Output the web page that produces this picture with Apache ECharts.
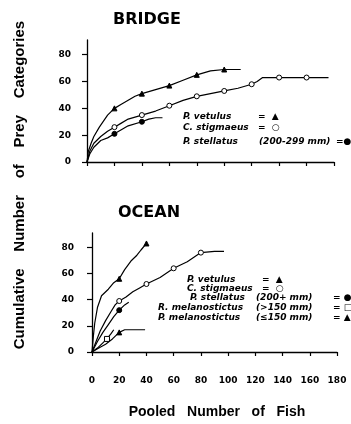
<!DOCTYPE html>
<html>
<head>
<meta charset="utf-8">
<script src="https://cdn.jsdelivr.net/npm/echarts@6/dist/echarts.min.js"></script>
<style>
  html, body { margin: 0; padding: 0; background: #fff; }
  #chart { width: 351px; height: 424px; }
</style>
</head>
<body>
<div id="chart"></div>
<script>
// Shared axis ticks
const fishTicks = [0, 20, 40, 60, 80, 100, 120, 140, 160, 180];
const preyTicks = [0, 20, 40, 60, 80];

// BRIDGE: cumulative prey categories vs. pooled number of fish
const bridgeVetulusX = [0, 1, 3, 5, 9, 15, 20, 25, 30, 35, 40, 50, 60, 70, 80, 90, 100, 112];
const bridgeVetulusY = [0, 8, 14, 19, 26, 35, 40, 43, 46, 49, 51, 54, 57, 61, 65, 68, 69, 69];
const bridgeVetulusMarks = [20, 40, 60, 80, 100];

const bridgeStigmaeusX = [0, 2, 5, 10, 15, 20, 25, 30, 40, 50, 60, 70, 80, 90, 100, 110, 120, 124, 128, 140, 160, 176];
const bridgeStigmaeusY = [0, 8, 14, 19, 23, 26, 29, 32, 35, 38, 42, 46, 49, 51, 53, 55, 58, 60, 63, 63, 63, 63];
const bridgeStigmaeusMarks = [20, 40, 60, 80, 100, 120, 140, 160];

const bridgeStellatusX = [0, 2, 5, 10, 15, 20, 25, 30, 40, 45, 50, 55];
const bridgeStellatusY = [0, 6, 11, 16, 18, 21, 24, 27, 30, 32, 33, 33];
const bridgeStellatusMarks = [20, 40];

// OCEAN
const oceanVetulusX = [0, 1, 2, 4, 7, 12, 16, 20, 24, 29, 33, 36, 40];
const oceanVetulusY = [0, 12, 22, 34, 43, 48, 53, 56, 63, 70, 74, 78, 83];
const oceanVetulusMarks = [20, 40];

const oceanStigmaeusX = [0, 3, 6, 10, 14, 17, 20, 25, 30, 35, 40, 50, 60, 70, 80, 90, 97];
const oceanStigmaeusY = [0, 8, 16, 24, 31, 36, 39, 42, 46, 49, 52, 57, 64, 69, 76, 77, 77];
const oceanStigmaeusMarks = [20, 40, 60, 80];

const oceanStellatusX = [0, 4, 8, 12, 16, 20, 24, 27];
const oceanStellatusY = [0, 8, 15, 21, 27, 32, 36, 38];
const oceanStellatusMarks = [20];

const oceanRmelX = [0, 4, 8, 11, 14, 16];
const oceanRmelY = [0, 3, 7, 10, 14, 17];
const oceanRmelMarks = [11];

const oceanPmelX = [0, 5, 10, 15, 20, 24, 30, 39];
const oceanPmelY = [0, 3, 6, 10, 15, 17, 17, 17];
const oceanPmelMarks = [20];

const INK = '#000';

function curve(xs, ys, marks, symbol, filled, gridIdx) {
  return {
    type: 'line',
    xAxisIndex: gridIdx,
    yAxisIndex: gridIdx,
    showSymbol: true,
    showAllSymbol: true,
    symbolSize: 5,
    lineStyle: { color: INK, width: 1.2 },
    itemStyle: { color: filled ? INK : '#fff', borderColor: INK, borderWidth: 1 },
    silent: true,
    data: xs.map((x, i) => ({
      value: [x, ys[i]],
      symbol: marks.includes(x) ? symbol : 'none'
    }))
  };
}

function xAxisFor(gridIdx, showLabels) {
  return {
    type: 'value', gridIndex: gridIdx, min: 0, max: 180,
    axisLine: { show: true, lineStyle: { color: INK, width: 1.3 } },
    axisTick: { show: true, length: 4, customValues: fishTicks, lineStyle: { color: INK, width: 1.2 } },
    axisLabel: {
      show: showLabels, customValues: fishTicks, margin: 24,
      color: INK, fontFamily: 'DejaVu Sans', fontWeight: 'bold', fontSize: 9
    },
    splitLine: { show: false }
  };
}

function yAxisFor(gridIdx, margin) {
  return {
    type: 'value', gridIndex: gridIdx, min: 0, max: 91,
    axisLine: { show: true, lineStyle: { color: INK, width: 1.3 } },
    axisTick: { show: true, length: 5, customValues: preyTicks, lineStyle: { color: INK, width: 1.2 } },
    axisLabel: {
      customValues: preyTicks, margin: margin,
      color: INK, fontFamily: 'DejaVu Sans', fontWeight: 'bold', fontSize: 9
    },
    splitLine: { show: false }
  };
}

// Key entries: species name, size class and symbol drawn as separate pieces
const legendFont = 'bold italic 9px "DejaVu Sans"';
function legendText(x, y, text) {
  return { type: 'text', x: x, y: y, style: { text: text, font: legendFont, fill: INK, verticalAlign: 'middle' } };
}

const chart = echarts.init(document.getElementById('chart'), null, { renderer: 'canvas' });
chart.setOption({
  animation: false,
  backgroundColor: '#fff',
  grid: [
    { left: 87, top: 40, width: 247, height: 122 },
    { left: 92, top: 233, width: 245, height: 119 }
  ],
  xAxis: [xAxisFor(0, false), xAxisFor(1, true)],
  yAxis: [yAxisFor(0, 16), yAxisFor(1, 18)],
  series: [
    curve(bridgeVetulusX, bridgeVetulusY, bridgeVetulusMarks, 'triangle', true, 0),
    curve(bridgeStigmaeusX, bridgeStigmaeusY, bridgeStigmaeusMarks, 'circle', false, 0),
    curve(bridgeStellatusX, bridgeStellatusY, bridgeStellatusMarks, 'circle', true, 0),
    curve(oceanVetulusX, oceanVetulusY, oceanVetulusMarks, 'triangle', true, 1),
    curve(oceanStigmaeusX, oceanStigmaeusY, oceanStigmaeusMarks, 'circle', false, 1),
    curve(oceanStellatusX, oceanStellatusY, oceanStellatusMarks, 'circle', true, 1),
    curve(oceanRmelX, oceanRmelY, oceanRmelMarks, 'rect', false, 1),
    curve(oceanPmelX, oceanPmelY, oceanPmelMarks, 'triangle', true, 1)
  ],
  graphic: [
    { type: 'text', x: 147, y: 20, style: { text: 'BRIDGE', font: 'bold 16px "DejaVu Sans"', fill: INK, align: 'center', verticalAlign: 'middle' } },
    { type: 'text', x: 149, y: 213, style: { text: 'OCEAN', font: 'bold 16px "DejaVu Sans"', fill: INK, align: 'center', verticalAlign: 'middle' } },
    { type: 'text', x: 217, y: 412, style: { text: 'Pooled   Number   of   Fish', font: 'bold 14px "Liberation Sans"', fill: INK, align: 'center', verticalAlign: 'middle' } },
    { type: 'text', x: 20, y: 185, rotation: Math.PI / 2, style: { text: 'Cumulative    Number    of    Prey    Categories', font: 'bold 15px "Liberation Sans"', fill: INK, align: 'center', verticalAlign: 'middle' } },

    legendText(183, 117, 'P. vetulus'), legendText(258, 117, '=  \u25B2'),
    legendText(183, 128, 'C. stigmaeus'), legendText(258, 128, '=  \u25CB'),
    legendText(183, 142, 'P. stellatus'), legendText(259, 142, '(200-299 mm)'), legendText(336, 142, '=\u25CF'),

    legendText(187, 280, 'P. vetulus'), legendText(262, 280, '=  \u25B2'),
    legendText(187, 289, 'C. stigmaeus'), legendText(262, 289, '=  \u25CB'),
    legendText(190, 298, 'P. stellatus'), legendText(256, 298, '(200+ mm)'), legendText(333, 298, '= \u25CF'),
    legendText(158, 308, 'R. melanostictus'), legendText(256, 308, '(>150 mm)'), legendText(333, 308, '= \u25A1'),
    legendText(158, 318, 'P. melanostictus'), legendText(256, 318, '(\u2264150 mm)'), legendText(333, 318, '= \u25B2')
  ]
});
</script>
</body>
</html>
